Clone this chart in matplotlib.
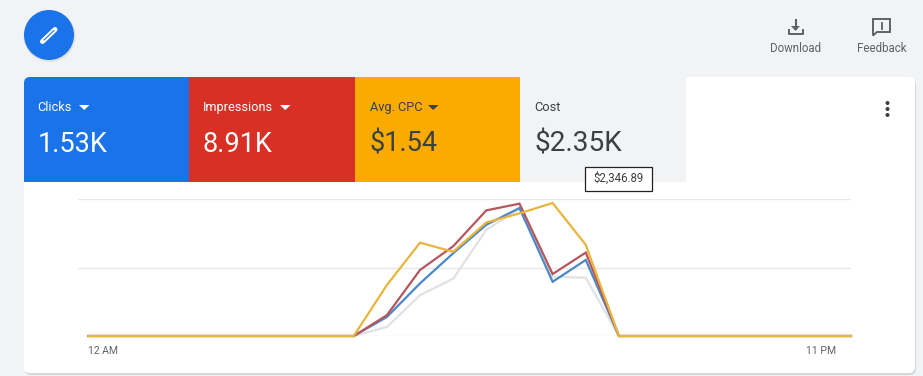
import matplotlib
matplotlib.use("Agg")
import matplotlib.pyplot as plt
from matplotlib.patches import Rectangle, Circle, FancyBboxPatch, Polygon
from matplotlib.transforms import ScaledTranslation

plt.rcParams['font.family'] = ['Roboto', 'DejaVu Sans']

hours = list(range(24))
clicks      = [0]*8 + [0, 13.9, 38.4, 60.4, 81.2, 93.4, 39.6, 55.5, 0] + [0]*7
impressions = [0]*8 + [0, 15.2, 48.2, 65.5, 91.7, 96.6, 45.2, 60.9, 0] + [0]*7
avg_cpc     = [0]*8 + [0, 37.2, 68.1, 61.5, 82.9, 89.5, 97.1, 66.5, 0] + [0]*7
cost        = [0]*8 + [0, 6.6, 29.8, 41.8, 77.5, 93.0, 43.3, 42.5, 0] + [0]*7
tick_hours = [0, 23]
tick_labels = ["12 AM", "11 PM"]
tile_names = ["Clicks", "Impressions", "Avg. CPC", "Cost"]
tile_values = ["1.53K", "8.91K", "$1.54", "$2.35K"]
tile_colors = ["#1a73e8", "#d93025", "#f9ab00", "#f1f3f4"]
tile_text = ["white", "white", "#3c4043", "#3c4043"]
tile_edges = [24, 189, 355, 520, 686]
tile_arrow = [80, 281, 429, None]
tile_pad = [13.5, 13.5, 14.5, 14.5]
value_size = [19.5, 19.5, 19.5, 20.2]

W, H = 923, 376
fig = plt.figure(figsize=(W/100, H/100), dpi=100, facecolor="#f1f3f4")
bg = fig.add_axes([0, 0, 1, 1])
bg.set_xlim(0, W); bg.set_ylim(H, 0); bg.axis("off")

# card with shadow
bg.add_patch(FancyBboxPatch((25, 79), 891, 296, boxstyle="round,pad=0,rounding_size=6",
                            fc="#d5d7d9", ec="none", zorder=1))
bg.add_patch(FancyBboxPatch((24, 77), 891, 296, boxstyle="round,pad=0,rounding_size=6",
                            fc="white", ec="none", zorder=2))

# tiles
for i in range(4):
    x0, x1 = tile_edges[i], tile_edges[i+1]
    if i == 0:
        bg.add_patch(FancyBboxPatch((x0, 77), 30, 30, boxstyle="round,pad=0,rounding_size=6",
                                    fc=tile_colors[i], ec="none", zorder=3))
        bg.add_patch(Rectangle((x0, 90), x1-x0, 92, fc=tile_colors[i], ec="none", zorder=3))
        bg.add_patch(Rectangle((x0+10, 77), x1-x0-10, 20, fc=tile_colors[i], ec="none", zorder=3))
    else:
        bg.add_patch(Rectangle((x0, 77), x1-x0, 105, fc=tile_colors[i], ec="none", zorder=3))
    bg.text(x0+tile_pad[i], 107.5, tile_names[i], color=tile_text[i], fontsize=9.2,
            ha="left", va="center", zorder=4)
    bg.text(x0+tile_pad[i], 152, tile_values[i], color=tile_text[i], fontsize=value_size[i],
            ha="left", va="baseline", zorder=4)
    if tile_arrow[i] is not None:
        a = tile_arrow[i]
        bg.add_patch(Polygon([(a-1, 105), (a+9.5, 105), (a+4.2, 110)], fc=tile_text[i],
                             ec="none", zorder=4))

# tooltip
bg.add_patch(Rectangle((584.5, 166.5), 67, 24, fc="white", ec="#222222", lw=0.9, zorder=6))
bg.text(618.5, 178.5, "$2,346.89", color="#3c4043", fontsize=8.3, ha="center",
        va="center", zorder=7)

# FAB
bg.add_patch(Circle((49.5, 36), 26, fc="#dfe1e3", ec="none", zorder=1))
bg.add_patch(Circle((49, 35), 25, fc="#1a73e8", ec="none", zorder=2))
bg.plot([42.5, 55], [41.5, 29.5], color="white", lw=3.6, solid_capstyle="round", zorder=3)
bg.plot([44, 54], [40, 30.5], color="#1a73e8", lw=0.8, solid_capstyle="round", zorder=4)

# download icon
ic = "#5f6368"
bg.plot([795.5, 795.5], [20, 29], color=ic, lw=1.5, zorder=3)
bg.add_patch(Polygon([(791, 26), (800, 26), (795.5, 31)], fc=ic, ec="none", zorder=3))
bg.plot([789, 789, 802.5, 802.5], [30, 33.5, 33.5, 30], color=ic, lw=1.4, zorder=3)
bg.text(795.5, 48, "Download", color=ic, fontsize=8.3, ha="center", va="center")

# feedback icon
bg.add_patch(Polygon([(873, 19), (890, 19), (890, 32), (877, 32), (873, 35.5)],
                     fc="none", ec=ic, lw=1.4, zorder=3))
bg.plot([881.5, 881.5], [22.5, 26.5], color=ic, lw=1.3, zorder=3)
bg.plot([881.5, 881.5], [27.8, 29.3], color=ic, lw=1.3, zorder=3)
bg.text(881.5, 48, "Feedback", color=ic, fontsize=8.3, ha="center", va="center")

# more menu dots
for yy in (103, 109, 115):
    bg.add_patch(Circle((887.5, yy), 2, fc="#3c4043", ec="none", zorder=4))

# chart axes: pixels 78..851 horizontally, 336..199 vertically
px_per_hour = (851 - 88.5) / 23
left, right, top, bottom = 78, 851, 199, 336
ax = fig.add_axes([left/W, 1-bottom/H, (right-left)/W, (bottom-top)/H])
ax.patch.set_alpha(0)
ax.set_xlim(-(88.5-left)/px_per_hour, 23)
ax.set_ylim(0, 100)
for s in ax.spines.values():
    s.set_visible(False)
ax.set_yticks([0, 50, 100])
ax.tick_params(axis="y", length=0, labelleft=False)
ax.yaxis.grid(True, color="#e6e7e9", lw=0.9)
ax.set_axisbelow(True)
ax.set_xticks(tick_hours, tick_labels)
ax.tick_params(axis="x", length=0, pad=7.5, labelsize=7.5, labelcolor="#5f6368")
offsets = [15, -30]
for lab, dx in zip(ax.get_xticklabels(), offsets):
    lab.set_transform(lab.get_transform() + ScaledTranslation(dx/100, 0, fig.dpi_scale_trans))

kw = dict(clip_on=False, lw=1.6, solid_joinstyle="miter")
ax.plot(hours, cost, color="#e0e2e3", **kw)
ax.plot(hours, clicks, color="#4a88c7", **kw)
ax.plot(hours, impressions, color="#b5575c", **kw)
ax.plot(hours, avg_cpc, color="#e9b53c", **kw)

fig.savefig("out.png", dpi=100, facecolor=fig.get_facecolor())
